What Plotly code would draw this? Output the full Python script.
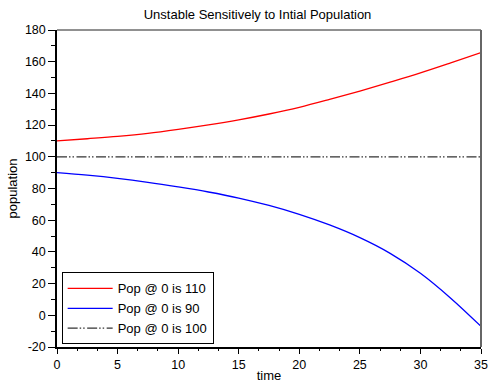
import plotly.graph_objects as go

time = [0, 2.5, 5, 7.5, 10, 12.5, 15, 17.5, 20, 22.5, 25, 27.5, 30, 32.5, 35]
pop_110 = [110.0, 111.4, 112.9, 114.8, 117.3, 120.1, 123.3, 127.0, 131.2, 136.2, 141.5, 147.1, 152.9, 159.2, 165.7]
pop_90 = [90.0, 88.4, 86.4, 83.9, 81.0, 77.8, 74.0, 69.3, 63.7, 57.0, 49.0, 39.1, 26.5, 10.8, -7.0]
eq_time = [0, 35]
pop_100 = [100, 100]

x_ticks = [0, 5, 10, 15, 20, 25, 30, 35]
y_ticks = [-20, 0, 20, 40, 60, 80, 100, 120, 140, 160, 180]

FONT = "Liberation Sans"

fig = go.Figure()
fig.add_trace(go.Scatter(x=time, y=pop_110, mode="lines", name="Pop @ 0 is 110",
                         line=dict(color="#ff0000", width=1.3, shape="spline")))
fig.add_trace(go.Scatter(x=time, y=pop_90, mode="lines", name="Pop @ 0 is 90",
                         line=dict(color="#0000ff", width=1.3, shape="spline")))
fig.add_trace(go.Scatter(x=eq_time, y=pop_100, mode="lines", name="Pop @ 0 is 100",
                         line=dict(color="#333333", width=1.2,
                                   dash="10px,2px,1.5px,2px,1.5px,2.5px")))

fig.update_layout(
    width=489, height=383,
    margin=dict(l=57, r=8, t=30, b=36),
    paper_bgcolor="white", plot_bgcolor="white",
    font=dict(family=FONT, size=12, color="black"),
    title=dict(text="Unstable Sensitively to Intial Population",
               x=0.473, xref="paper", xanchor="center",
               y=1 - 14 / 383, yref="container", yanchor="middle",
               font=dict(family=FONT, size=13, color="black")),
    showlegend=True,
    legend=dict(x=0.011, y=0.008, xanchor="left", yanchor="bottom",
                bgcolor="white", bordercolor="black", borderwidth=1,
                font=dict(family=FONT, size=13, color="black"),
                itemwidth=45, tracegroupgap=0),
)

fig.update_xaxes(
    range=[0, 35], tickvals=x_ticks, ticktext=[str(v) for v in x_ticks],
    showgrid=False, zeroline=False, automargin=False,
    showline=True, linecolor="black", linewidth=1.5,
    ticks="outside", ticklen=5, tickwidth=1, tickcolor="black",
    minor=dict(dtick=5 / 3, tick0=0, ticks="outside", ticklen=2, tickcolor="black", showgrid=False),
    tickfont=dict(family=FONT, size=12.5),
    title=dict(text="time", font=dict(family=FONT, size=13), standoff=2),
)
fig.update_yaxes(
    range=[-20, 180], tickvals=y_ticks, ticktext=[str(v) for v in y_ticks],
    showgrid=False, zeroline=False, automargin=False,
    showline=True, linecolor="black", linewidth=1.5,
    ticks="outside", ticklen=7, tickwidth=1, tickcolor="black",
    minor=dict(dtick=10, tick0=0, ticks="outside", ticklen=4, tickcolor="black", showgrid=False),
    tickfont=dict(family=FONT, size=12.5),
    title=dict(text="population", font=dict(family=FONT, size=13), standoff=4),
)

# frame: thin dark top edge, gray right edge
fig.add_shape(type="line", xref="paper", yref="paper", x0=0, x1=1, y0=1, y1=1,
              line=dict(color="#222222", width=1))
fig.add_shape(type="line", xref="paper", yref="paper", x0=1, x1=1, y0=0, y1=1,
              line=dict(color="#666666", width=2))

fig.write_html("out.html")
